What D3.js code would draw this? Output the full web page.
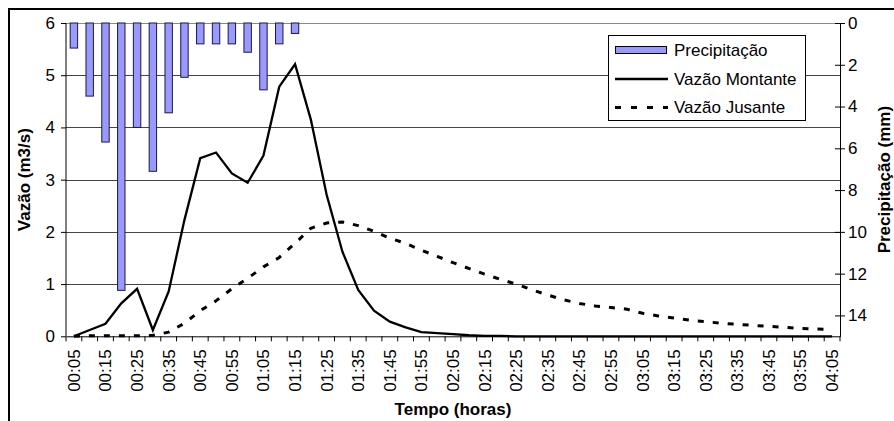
<!DOCTYPE html>
<html>
<head>
<meta charset="utf-8">
<script src="https://cdn.jsdelivr.net/npm/d3@7"></script>
<style>
  html, body { margin: 0; padding: 0; background: #fff; }
  svg { display: block; font-family: "Liberation Sans", Arial, sans-serif; }
</style>
</head>
<body>
<svg id="chart" width="894" height="421"></svg>
<script>
// ---- data ----
const tempos = [
  "00:05","00:10","00:15","00:20","00:25","00:30","00:35","00:40","00:45","00:50",
  "00:55","01:00","01:05","01:10","01:15","01:20","01:25","01:30","01:35","01:40",
  "01:45","01:50","01:55","02:00","02:05","02:10","02:15","02:20","02:25","02:30",
  "02:35","02:40","02:45","02:50","02:55","03:00","03:05","03:10","03:15","03:20",
  "03:25","03:30","03:35","03:40","03:45","03:50","03:55","04:00","04:05"
];
const precipitacao = [
  1.2, 3.5, 5.7, 12.8, 5.0, 7.1, 4.3, 2.6, 1.0, 1.0,
  1.0, 1.4, 3.2, 1.0, 0.5, 0, 0, 0, 0, 0,
  0, 0, 0, 0, 0, 0, 0, 0, 0, 0,
  0, 0, 0, 0, 0, 0, 0, 0, 0, 0,
  0, 0, 0, 0, 0, 0, 0, 0, 0
];
const vazaoMontante = [
  0, 0.12, 0.24, 0.63, 0.91, 0.12, 0.86, 2.23, 3.41, 3.52,
  3.12, 2.94, 3.46, 4.78, 5.21, 4.15, 2.71, 1.62, 0.89, 0.49,
  0.28, 0.17, 0.08, 0.06, 0.04, 0.02, 0.01, 0.01, 0, 0,
  0, 0, 0, 0, 0, 0, 0, 0, 0, 0,
  0, 0, 0, 0, 0, 0, 0, 0, 0
];
const vazaoJusante = [
  0, 0.01, 0.01, 0.01, 0.01, 0.02, 0.08, 0.25, 0.49, 0.68,
  0.91, 1.11, 1.33, 1.51, 1.78, 2.07, 2.17, 2.19, 2.12, 2.01,
  1.88, 1.78, 1.65, 1.53, 1.41, 1.30, 1.19, 1.09, 1.00, 0.89,
  0.79, 0.70, 0.63, 0.58, 0.55, 0.52, 0.44, 0.39, 0.35, 0.31,
  0.28, 0.25, 0.23, 0.21, 0.19, 0.17, 0.15, 0.14, 0.13
];
const leftTicks = [0, 1, 2, 3, 4, 5, 6];
const rightTicks = [0, 2, 4, 6, 8, 10, 12, 14];
const xLabels = tempos.filter((d, i) => i % 2 === 0);
const legendItems = ["Precipitação", "Vazão Montante", "Vazão Jusante"];

// ---- layout ----
const svg = d3.select("#chart");
const FS = 17;
const plot = { left: 66, right: 840, top: 23, bottom: 336.3 };

const x = d3.scaleBand().domain(tempos).range([plot.left, plot.right]).padding(0);
const yL = d3.scaleLinear().domain([0, 6]).range([plot.bottom, plot.top]);
const yR = d3.scaleLinear().domain([0, 15]).range([plot.top, plot.bottom]);

// outer frame
svg.append("rect").attr("x", 9).attr("y", 9).attr("width", 900).attr("height", 430)
  .attr("fill", "none").attr("stroke", "#000").attr("stroke-width", 2);

// gridlines
svg.append("g").selectAll("line").data(leftTicks.filter(d => d > 0)).join("line")
  .attr("x1", plot.left).attr("x2", plot.right)
  .attr("y1", d => Math.round(yL(d)) + 0.5).attr("y2", d => Math.round(yL(d)) + 0.5)
  .attr("stroke", d => d === 6 ? "#8a8a8a" : "#444").attr("stroke-width", 1);

// bars
const barW = x.bandwidth() * 0.47;
svg.append("g").selectAll("rect")
  .data(tempos.map((t, i) => ({ t, v: precipitacao[i] })).filter(d => d.v > 0))
  .join("rect")
  .attr("x", d => x(d.t) + (x.bandwidth() - barW) / 2)
  .attr("y", yR(0))
  .attr("width", barW)
  .attr("height", d => yR(d.v) - yR(0))
  .attr("fill", "#9999ff").attr("stroke", "#1a1a40").attr("stroke-width", 1);

// lines
const lineGen = d3.line()
  .x((d, i) => x(tempos[i]) + x.bandwidth() / 2)
  .y(d => yL(d));
svg.append("path").datum(vazaoJusante).attr("d", lineGen)
  .attr("fill", "none").attr("stroke", "#000").attr("stroke-width", 3)
  .attr("stroke-dasharray", "6,9");
svg.append("path").datum(vazaoMontante).attr("d", lineGen)
  .attr("fill", "none").attr("stroke", "#000").attr("stroke-width", 2.3)
  .attr("stroke-linejoin", "miter");

// left axis
const gL = svg.append("g").attr("transform", `translate(${plot.left},0)`)
  .call(d3.axisLeft(yL).tickValues(leftTicks).tickSize(5).tickPadding(6).tickFormat(d3.format("d")));
// right axis
const gR = svg.append("g").attr("transform", `translate(${plot.right},0)`)
  .call(d3.axisRight(yR).tickValues(rightTicks).tickSizeInner(5).tickSizeOuter(0).tickPadding(3).tickFormat(d3.format("d")));
gR.selectAll(".tick line").attr("x1", -5).attr("x2", 5);
// bottom axis: labels
const gB = svg.append("g").attr("transform", `translate(0,${plot.bottom})`)
  .call(d3.axisBottom(x).tickValues(xLabels).tickSize(0).tickPadding(0));
gB.selectAll(".tick text")
  .attr("transform", "rotate(-90)")
  .attr("x", -13).attr("y", 0).attr("dy", "0.35em")
  .attr("text-anchor", "end");
// bottom axis: tick marks at category boundaries
svg.append("g").selectAll("line")
  .data(tempos.map(t => x(t)).concat([plot.right]))
  .join("line")
  .attr("x1", d => d).attr("x2", d => d)
  .attr("y1", plot.bottom).attr("y2", plot.bottom + 5)
  .attr("stroke", "#000").attr("stroke-width", 1);

[gL, gR, gB].forEach(g => {
  g.selectAll("text").attr("font-size", FS).attr("fill", "#000")
    .attr("font-family", "Liberation Sans, Arial, sans-serif");
  g.selectAll("path.domain, line").attr("stroke", "#000");
});
gL.select("path.domain").attr("d", `M0,${plot.top}V${plot.bottom}`);

// axis titles
svg.append("text").attr("transform", `translate(30,${(plot.top + plot.bottom) / 2}) rotate(-90)`)
  .attr("text-anchor", "middle").attr("font-size", FS).attr("font-weight", "bold")
  .text("Vazão (m3/s)");
svg.append("text").attr("transform", `translate(890,${(plot.top + plot.bottom) / 2}) rotate(-90)`)
  .attr("text-anchor", "middle").attr("font-size", FS).attr("font-weight", "bold")
  .text("Precipitação (mm)");
svg.append("text").attr("x", (plot.left + plot.right) / 2).attr("y", 415)
  .attr("text-anchor", "middle").attr("font-size", FS).attr("font-weight", "bold")
  .text("Tempo (horas)");

// legend
const lg = svg.append("g");
lg.append("rect").attr("x", 608.5).attr("y", 35.5).attr("width", 197).attr("height", 85)
  .attr("fill", "#fff").attr("stroke", "#000").attr("stroke-width", 1);
const ly = [50, 79, 107.5];
lg.append("rect").attr("x", 615.5).attr("y", 46.5).attr("width", 51).attr("height", 7)
  .attr("fill", "#9999ff").attr("stroke", "#000").attr("stroke-width", 1);
lg.append("line").attr("x1", 615).attr("x2", 668).attr("y1", ly[1]).attr("y2", ly[1])
  .attr("stroke", "#000").attr("stroke-width", 2.3);
lg.append("line").attr("x1", 615).attr("x2", 668).attr("y1", ly[2]).attr("y2", ly[2])
  .attr("stroke", "#000").attr("stroke-width", 3).attr("stroke-dasharray", "6,10");
lg.selectAll("text.leg").data(legendItems).join("text").attr("class", "leg")
  .attr("x", 674).attr("y", (d, i) => ly[i]).attr("dy", "0.35em")
  .attr("font-size", FS).text(d => d);
</script>
</body>
</html>
